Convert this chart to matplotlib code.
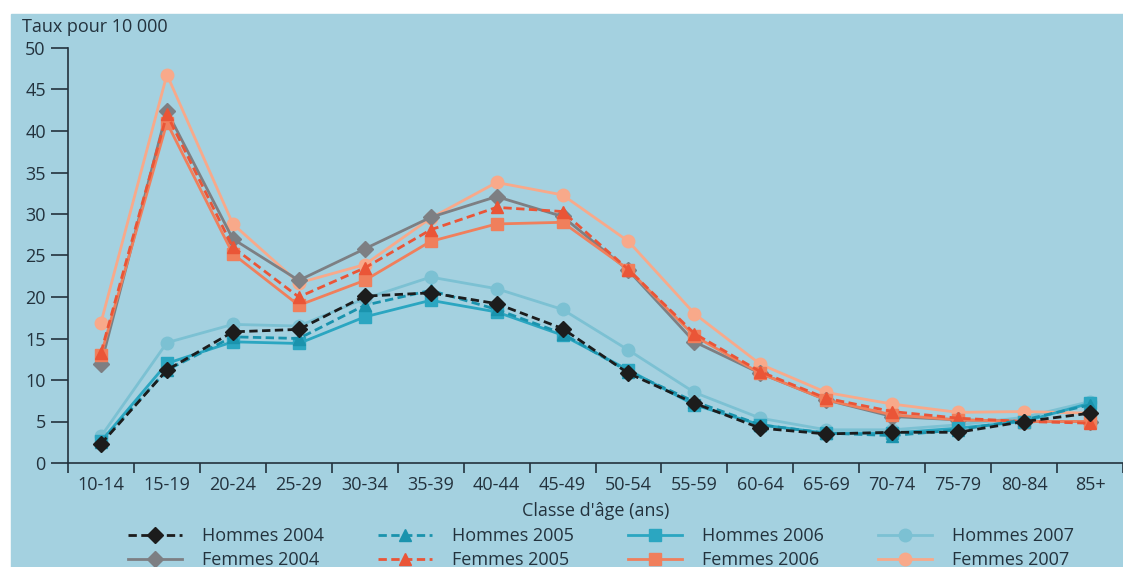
#%%
import numpy as np
import matplotlib.pyplot as plt

plt.rcParams['font.family'] = ['Open Sans', 'DejaVu Sans']

#%% data
age_classes = ["10-14", "15-19", "20-24", "25-29", "30-34", "35-39", "40-44", "45-49",
               "50-54", "55-59", "60-64", "65-69", "70-74", "75-79", "80-84", "85+"]

hommes_2004 = [2.3, 11.2, 15.8, 16.1, 20.1, 20.5, 19.2, 16.2, 10.8, 7.2, 4.2, 3.5, 3.7, 3.7, 5.0, 6.0]
hommes_2005 = [2.5, 11.2, 15.2, 15.0, 19.0, 20.8, 18.5, 15.6, 11.0, 7.4, 4.6, 3.6, 3.3, 4.0, 5.2, 7.0]
hommes_2006 = [2.6, 12.0, 14.6, 14.4, 17.6, 19.6, 18.2, 15.4, 11.2, 7.0, 4.6, 3.6, 3.6, 4.2, 5.0, 7.2]
hommes_2007 = [3.2, 14.5, 16.7, 16.5, 19.8, 22.4, 21.0, 18.5, 13.6, 8.5, 5.4, 4.0, 4.0, 4.6, 5.5, 7.4]
femmes_2004 = [11.9, 42.4, 27.0, 22.0, 25.8, 29.6, 32.1, 29.7, 23.2, 14.6, 10.8, 7.6, 5.6, 5.2, 5.0, 5.0]
femmes_2005 = [13.3, 42.0, 26.0, 20.0, 23.5, 28.1, 30.8, 30.3, 23.3, 15.6, 11.0, 7.8, 6.2, 5.4, 5.0, 4.8]
femmes_2006 = [13.0, 41.0, 25.2, 19.0, 22.0, 26.7, 28.8, 29.0, 23.3, 15.3, 10.8, 7.6, 5.8, 5.2, 5.0, 5.0]
femmes_2007 = [16.9, 46.8, 28.8, 21.7, 23.9, 29.5, 33.8, 32.3, 26.7, 18.0, 11.9, 8.5, 7.1, 6.1, 6.2, 6.0]

yticks = np.arange(0, 55, 5)

bg = "#a4d1e0"
ink = "#23323d"

#%% series styles (label, values, colour, linestyle, marker)
series = [
    ("Hommes 2004", hommes_2004, "#1c1c1c", "--", "D"),
    ("Femmes 2004", femmes_2004, "#7d7f83", "-", "D"),
    ("Hommes 2005", hommes_2005, "#1a93ad", "--", "^"),
    ("Femmes 2005", femmes_2005, "#ea5537", "--", "^"),
    ("Hommes 2006", hommes_2006, "#2ba6c1", "-", "s"),
    ("Femmes 2006", femmes_2006, "#f07f5c", "-", "s"),
    ("Hommes 2007", hommes_2007, "#7cc1d3", "-", "o"),
    ("Femmes 2007", femmes_2007, "#f8a98a", "-", "o"),
]
# drawing order: light/back lines first
draw_order = [6, 7, 1, 5, 3, 4, 2, 0]

#%% plotting
fig = plt.figure(figsize=(11.23, 5.67), dpi=100, facecolor="white")
fig.patches.append(plt.Rectangle((11 / 1123, 0), 1, 1 - 14 / 567,
                                 transform=fig.transFigure, color=bg, zorder=-10))
ax = fig.add_axes([68 / 1123, 1 - 463 / 567, 1 - 68 / 1123, (463 - 48) / 567])
ax.set_facecolor(bg)

x = np.arange(len(age_classes))
lines = {}
for i in draw_order:
    label, vals, col, ls, mk = series[i]
    ms = 8 if mk == "D" else 9
    ln, = ax.plot(x, vals, color=col, linestyle=ls, marker=mk, markersize=ms,
                  linewidth=2, label=label)
    if ls == "--":
        ln.set_dashes((3, 1.6))
    lines[i] = ln

ax.set_xlim(-0.5, 15.32)
ax.set_ylim(0, 50)
ax.set_yticks(yticks)
ax.set_xticks(x)
ax.set_xticklabels(age_classes)
ax.set_xticks(np.arange(-0.5, 15.6, 1), minor=True)
ax.tick_params(axis="x", which="major", length=0, pad=9, labelsize=13, colors=ink)
ax.tick_params(axis="x", which="minor", length=7, width=1.2, color=ink)
ax.tick_params(axis="y", length=12, width=1.2, color=ink, labelsize=13, labelcolor=ink, pad=4)
for s in ["top", "right"]:
    ax.spines[s].set_visible(False)
for s in ["left", "bottom"]:
    ax.spines[s].set_color(ink)
    ax.spines[s].set_linewidth(1.2)
ax.set_xlabel("Classe d'âge (ans)", fontsize=13, color=ink, labelpad=6)
fig.text(22 / 1123, 1 - 27 / 567, "Taux pour 10 000", fontsize=13, color=ink, va="center")

handles = [lines[i] for i in range(8)]
fig.legend(handles, [s[0] for s in series], ncol=4, loc="center",
           bbox_to_anchor=(0.535, 1 - 548 / 567), frameon=False, fontsize=13,
           handlelength=3.0, handletextpad=1.1, columnspacing=3.0,
           labelspacing=0.35, labelcolor=ink)

plt.savefig("out.png", dpi=100, facecolor="white")
